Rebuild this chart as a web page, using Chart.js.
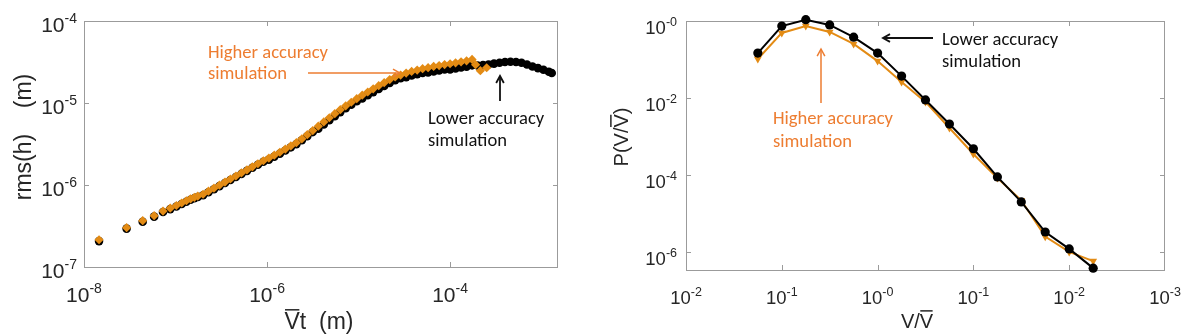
<!DOCTYPE html>
<html><head><meta charset="utf-8">
<script src="https://cdn.jsdelivr.net/npm/chart.js@4/dist/chart.umd.min.js"></script>
<style>
html,body{margin:0;padding:0;background:#fff;width:1196px;height:336px;overflow:hidden}
canvas{position:absolute;top:0}
#c1{left:0}
#c2{left:590px}
</style></head><body>
<canvas id="c1" width="590" height="336"></canvas>
<canvas id="c2" width="606" height="336"></canvas>
<script>
// ---------- DATA ----------
// Left panel: rms(h) vs Vt  (higher accuracy = orange diamonds, lower accuracy = black circles)
const rmsTimeHigh = [1.46e-8, 2.92e-8, 4.38e-8, 5.84e-8, 7.30e-8, 8.76e-8, 1.022e-7, 1.168e-7, 1.314e-7, 1.46e-7, 1.606e-7, 1.752e-7,
  2.00e-7, 2.29e-7, 2.63e-7, 3.02e-7, 3.47e-7, 3.98e-7, 4.57e-7, 5.25e-7, 6.03e-7, 6.92e-7, 7.94e-7, 9.12e-7,
  1.047e-6, 1.20e-6, 1.38e-6, 1.585e-6, 1.82e-6, 2.09e-6, 2.40e-6, 2.75e-6, 3.16e-6, 3.63e-6, 4.17e-6, 4.79e-6, 5.50e-6, 6.31e-6, 7.24e-6,
  8.32e-6, 9.55e-6, 1.096e-5, 1.26e-5, 1.445e-5, 1.66e-5, 1.905e-5, 2.19e-5, 2.51e-5, 2.88e-5, 3.31e-5, 3.80e-5, 4.37e-5, 5.01e-5,
  5.75e-5, 6.61e-5, 7.59e-5, 8.71e-5, 1.0e-4, 1.148e-4, 1.318e-4, 1.514e-4, 1.738e-4, 1.90e-4, 2.14e-4, 2.51e-4];
const rmsHigh = [2.15e-7, 3.02e-7, 3.67e-7, 4.22e-7, 4.81e-7, 5.22e-7, 5.62e-7, 6.03e-7, 6.43e-7, 6.79e-7, 7.08e-7, 7.33e-7,
  7.71e-7, 8.40e-7, 9.14e-7, 9.95e-7, 1.086e-6, 1.183e-6, 1.288e-6, 1.403e-6, 1.528e-6, 1.667e-6, 1.816e-6, 1.977e-6,
  2.13e-6, 2.31e-6, 2.51e-6, 2.74e-6, 3.00e-6, 3.28e-6, 3.66e-6, 4.11e-6, 4.61e-6, 5.21e-6, 5.87e-6, 6.61e-6, 7.41e-6, 8.30e-6, 9.25e-6,
  1.021e-5, 1.130e-5, 1.245e-5, 1.361e-5, 1.489e-5, 1.626e-5, 1.770e-5, 1.93e-5, 2.08e-5, 2.19e-5, 2.32e-5, 2.43e-5, 2.52e-5, 2.62e-5,
  2.70e-5, 2.79e-5, 2.86e-5, 2.94e-5, 3.01e-5, 3.09e-5, 3.18e-5, 3.27e-5, 3.40e-5, 2.93e-5, 2.48e-5, 2.69e-5];
const rmsTimeLow = [1.46e-8, 2.92e-8, 4.38e-8, 5.84e-8, 7.30e-8, 8.76e-8, 1.022e-7, 1.168e-7, 1.314e-7, 1.46e-7, 1.606e-7, 1.752e-7,
  2.00e-7, 2.29e-7, 2.63e-7, 3.02e-7, 3.47e-7, 3.98e-7, 4.57e-7, 5.25e-7, 6.03e-7, 6.92e-7, 7.94e-7, 9.12e-7,
  1.047e-6, 1.20e-6, 1.38e-6, 1.585e-6, 1.82e-6, 2.09e-6, 2.40e-6, 2.75e-6, 3.16e-6, 3.63e-6, 4.17e-6, 4.79e-6, 5.50e-6, 6.31e-6, 7.24e-6,
  8.32e-6, 9.55e-6, 1.096e-5, 1.26e-5, 1.445e-5, 1.66e-5, 1.905e-5, 2.19e-5, 2.51e-5, 2.88e-5, 3.31e-5, 3.80e-5, 4.37e-5, 5.01e-5,
  5.75e-5, 6.61e-5, 7.59e-5, 8.71e-5, 1.0e-4, 1.148e-4, 1.318e-4, 1.514e-4, 1.738e-4,
  2.00e-4, 2.29e-4, 2.63e-4, 3.02e-4, 3.47e-4, 3.98e-4, 4.57e-4, 5.25e-4, 6.03e-4, 6.92e-4, 7.94e-4, 9.12e-4, 1.047e-3, 1.20e-3, 1.29e-3];
const rmsLow = [2.07e-7, 2.94e-7, 3.57e-7, 4.11e-7, 4.68e-7, 5.08e-7, 5.47e-7, 5.87e-7, 6.26e-7, 6.61e-7, 6.89e-7, 7.13e-7,
  7.50e-7, 8.17e-7, 8.89e-7, 9.68e-7, 1.057e-6, 1.151e-6, 1.253e-6, 1.365e-6, 1.487e-6, 1.622e-6, 1.767e-6, 1.924e-6,
  2.04e-6, 2.22e-6, 2.41e-6, 2.63e-6, 2.88e-6, 3.15e-6, 3.51e-6, 3.94e-6, 4.42e-6, 4.86e-6, 5.48e-6, 6.17e-6, 6.91e-6, 7.74e-6, 8.63e-6,
  9.53e-6, 1.054e-5, 1.135e-5, 1.241e-5, 1.358e-5, 1.483e-5, 1.614e-5, 1.76e-5, 1.90e-5, 2.00e-5, 2.07e-5, 2.17e-5, 2.25e-5, 2.33e-5,
  2.35e-5, 2.43e-5, 2.49e-5, 2.56e-5, 2.56e-5, 2.63e-5, 2.71e-5, 2.78e-5, 2.88e-5,
  2.86e-5, 2.90e-5, 2.95e-5, 3.02e-5, 3.09e-5, 3.16e-5, 3.18e-5, 3.16e-5, 3.09e-5, 2.95e-5, 2.79e-5, 2.66e-5, 2.54e-5, 2.40e-5, 2.32e-5];

// Right panel: P(V/Vbar) vs V/Vbar
const pdfBins = [0.0562, 0.1, 0.178, 0.316, 0.562, 1, 1.78, 3.16, 5.62, 10, 17.8, 31.6, 56.2, 100, 178];
const pdfLow  = [0.147, 0.74, 1.08, 0.79, 0.38, 0.147, 0.037, 0.0089, 0.0021, 4.8e-4, 8.9e-5, 2.0e-5, 3.3e-6, 1.2e-6, 3.8e-7];
const pdfHigh = [0.103, 0.49, 0.74, 0.52, 0.253, 0.091, 0.026, 0.0079, 0.00166, 3.5e-4, 8.3e-5, 2.2e-5, 2.5e-6, 1.0e-6, 5.8e-7];

// Tick values and labels (exponent text as printed)
const leftXTicks = [1e-8, 1e-6, 1e-4];
const leftXTickExp = ['-8', '-6', '-4'];
const leftYTicks = [1e-4, 1e-5, 1e-6, 1e-7];
const leftYTickExp = ['-4', '-5', '-6', '-7'];
const rightXTicks = [1e-2, 1e-1, 1, 10, 100, 1000];
const rightXTickExp = ['-2', '-1', '-0', '-1', '-2', '-3'];
const rightYTicks = [1, 1e-2, 1e-4, 1e-6];
const rightYTickExp = ['-0', '-2', '-4', '-6'];

// ---------- STYLE / DRAW HELPERS ----------
const FONT = '"Liberation Sans", Arial, sans-serif';
const NOTE_FONT = 'Carlito, Lato, sans-serif';
const ORANGE_MARK = '#E38B14';
const ORANGE_TEXT = '#ED7D31';
const TXT = '#262626';
const BOX = '#9b9b9b';

function drawPow(ctx, x, baseY, exp, B, E, align) {
  ctx.font = B + 'px ' + FONT;
  const wb = ctx.measureText('10').width;
  ctx.font = E + 'px ' + FONT;
  const we = ctx.measureText(exp).width;
  const x0 = align === 'center' ? x - (wb + we) / 2 : x - (wb + we);
  ctx.fillStyle = TXT; ctx.textAlign = 'left'; ctx.textBaseline = 'alphabetic';
  ctx.font = B + 'px ' + FONT; ctx.fillText('10', x0, baseY);
  ctx.font = E + 'px ' + FONT; ctx.fillText(exp, x0 + wb, baseY - 0.42 * B);
}

function drawFrame(chart, xt, yt) {
  const {ctx, chartArea: a, scales} = chart;
  ctx.save();
  ctx.strokeStyle = BOX; ctx.lineWidth = 1;
  ctx.strokeRect(a.left + 0.5, a.top + 0.5, a.right - a.left - 1, a.bottom - a.top);
  ctx.beginPath();
  const L = 5;
  xt.forEach(v => {
    const px = Math.round(scales.x.getPixelForValue(v)) + 0.5;
    if (px < a.left + 2 || px > a.right - 2) return;
    ctx.moveTo(px, a.bottom); ctx.lineTo(px, a.bottom - L);
    ctx.moveTo(px, a.top); ctx.lineTo(px, a.top + L);
  });
  yt.forEach(v => {
    const py = Math.round(scales.y.getPixelForValue(v)) + 0.5;
    if (py < a.top + 2 || py > a.bottom - 2) return;
    ctx.moveTo(a.left, py); ctx.lineTo(a.left + L, py);
    ctx.moveTo(a.right, py); ctx.lineTo(a.right - L, py);
  });
  ctx.stroke();
  ctx.restore();
}

function titleText(ctx, text, from, to, cx, cy, size, rotate) {
  ctx.save();
  ctx.translate(cx, cy);
  if (rotate) ctx.rotate(-Math.PI / 2);
  ctx.font = size + 'px ' + FONT;
  ctx.fillStyle = TXT; ctx.textAlign = 'left'; ctx.textBaseline = 'alphabetic';
  const w = ctx.measureText(text).width;
  const x0 = -w / 2, base = 0.36 * size;
  ctx.fillText(text, x0, base);
  if (to > from) {
    const b0 = x0 + ctx.measureText(text.slice(0, from)).width;
    const b1 = x0 + ctx.measureText(text.slice(0, to)).width;
    const yb = base - 0.716 * size - 3;
    ctx.strokeStyle = TXT; ctx.lineWidth = 1.5;
    ctx.beginPath(); ctx.moveTo(b0 + 0.5, yb); ctx.lineTo(b1 - 0.5, yb); ctx.stroke();
  }
  ctx.restore();
}

let noteSize = null;
function note(ctx, lines, x, y0, dy, color) {
  if (noteSize === null) {
    ctx.font = '20px ' + NOTE_FONT;
    noteSize = 20 * 120 / ctx.measureText('Higher accuracy').width;
  }
  ctx.save();
  ctx.font = noteSize + 'px ' + NOTE_FONT;
  ctx.fillStyle = color; ctx.textAlign = 'left'; ctx.textBaseline = 'middle';
  lines.forEach((l, i) => ctx.fillText(l, x, y0 + i * dy));
  ctx.restore();
}

function arrow(ctx, x1, y1, x2, y2, color, lw) {
  ctx.save();
  ctx.strokeStyle = color; ctx.lineWidth = lw; ctx.lineCap = 'butt';
  ctx.beginPath(); ctx.moveTo(x1, y1); ctx.lineTo(x2, y2); ctx.stroke();
  const ang = Math.atan2(y2 - y1, x2 - x1), h = 8, s = 0.5;
  ctx.beginPath();
  ctx.moveTo(x2 - h * Math.cos(ang - s), y2 - h * Math.sin(ang - s));
  ctx.lineTo(x2, y2);
  ctx.lineTo(x2 - h * Math.cos(ang + s), y2 - h * Math.sin(ang + s));
  ctx.stroke();
  ctx.restore();
}

function makeChart(id, datasets, xr, yr, padding, deco) {
  return new Chart(document.getElementById(id), {
    type: 'scatter',
    data: { datasets },
    options: {
      responsive: false, animation: false, events: [],
      layout: { padding },
      plugins: { legend: { display: false }, tooltip: { enabled: false } },
      scales: {
        x: { type: 'logarithmic', min: xr[0], max: xr[1], display: false },
        y: { type: 'logarithmic', min: yr[0], max: yr[1], display: false }
      }
    },
    plugins: [deco]
  });
}

// ---------- LEFT CHART ----------
makeChart('c1', [
  { label: 'Higher accuracy simulation',
    data: rmsTimeHigh.map((x, i) => ({ x, y: rmsHigh[i] })),
    showLine: false, pointStyle: 'rectRot', pointRadius: 4.6, pointBorderWidth: 0,
    backgroundColor: ORANGE_MARK, borderColor: ORANGE_MARK },
  { label: 'Lower accuracy simulation',
    data: rmsTimeLow.map((x, i) => ({ x, y: rmsLow[i] })),
    showLine: false, pointStyle: 'circle', pointRadius: 4.3, pointBorderWidth: 0,
    backgroundColor: '#000', borderColor: '#000' }
], [1e-8, 1.51e-3], [1e-7, 1e-4], { left: 84, right: 32, top: 21, bottom: 69 }, {
  id: 'decoL',
  beforeDatasetsDraw(chart) { drawFrame(chart, leftXTicks, leftYTicks); },
  afterDraw(chart) {
    const {ctx, chartArea: a, scales} = chart;
    leftXTicks.forEach((v, i) => drawPow(ctx, scales.x.getPixelForValue(v), 302, leftXTickExp[i], 21, 14, 'center'));
    leftYTicks.forEach((v, i) => drawPow(ctx, a.left - 7, scales.y.getPixelForValue(v) + 11, leftYTickExp[i], 21, 14, 'right'));
    titleText(ctx, 'rms(h)    (m)', 0, 0, 23, 137, 23, true);
    titleText(ctx, 'Vt  (m)', 0, 1, 319, 321, 23, false);
    note(ctx, ['Higher accuracy', 'simulation'], 208, 53, 21, ORANGE_TEXT);
    arrow(ctx, 308, 73, 400, 73, ORANGE_TEXT, 1.5);
    note(ctx, ['Lower accuracy', 'simulation'], 428, 119, 22, '#111111');
    arrow(ctx, 500, 101, 500, 76, '#111111', 1.8);
  }
});

// ---------- RIGHT CHART ----------
makeChart('c2', [
  { label: 'Lower accuracy simulation',
    data: pdfBins.map((x, i) => ({ x, y: pdfLow[i] })),
    showLine: true, borderColor: '#000', borderWidth: 2, tension: 0,
    pointStyle: 'circle', pointRadius: 4.6, pointBorderWidth: 0, backgroundColor: '#000', clip: false },
  { label: 'Higher accuracy simulation',
    data: pdfBins.map((x, i) => ({ x, y: pdfHigh[i] })),
    showLine: true, borderColor: ORANGE_MARK, borderWidth: 2, tension: 0,
    pointStyle: 'triangle', rotation: 180, pointRadius: 4.5, pointBorderWidth: 0, backgroundColor: ORANGE_MARK, clip: false }
], [1e-2, 1e3], [3.4e-7, 1], { left: 96, right: 31, top: 21, bottom: 66 }, {
  id: 'decoR',
  beforeDatasetsDraw(chart) { drawFrame(chart, rightXTicks, rightYTicks); },
  afterDraw(chart) {
    const {ctx, chartArea: a, scales} = chart;
    rightXTicks.forEach((v, i) => drawPow(ctx, scales.x.getPixelForValue(v), 304, rightXTickExp[i], 18.5, 12.5, 'center'));
    rightYTicks.forEach((v, i) => drawPow(ctx, a.left - 9, scales.y.getPixelForValue(v) + 13, rightYTickExp[i], 18.5, 12.5, 'right'));
    titleText(ctx, 'P(V/V)', 4, 5, 31, 137, 20, true);
    titleText(ctx, 'V/V', 2, 3, 327, 321, 20, false);
    note(ctx, ['Lower accuracy', 'simulation'], 352, 40, 22, '#111111');
    arrow(ctx, 343, 38, 293, 38, '#111111', 1.8);
    note(ctx, ['Higher accuracy', 'simulation'], 183, 119, 23, ORANGE_TEXT);
    arrow(ctx, 231, 103, 231, 49, ORANGE_TEXT, 1.5);
  }
});
</script>
</body></html>
